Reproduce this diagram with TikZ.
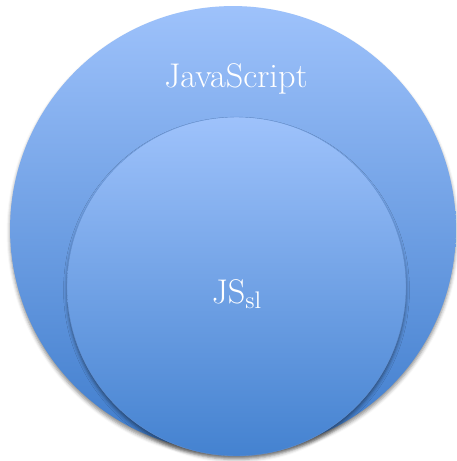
\documentclass[tikz,border=0pt]{standalone}
\usepackage{fontspec}
\usepackage{tikz}
\usetikzlibrary{shadows.blur}
\usetikzlibrary{positioning}
\definecolor{jstop}{RGB}{158,194,251}
\definecolor{jsbottom}{RGB}{62,124,204}
\definecolor{sltop}{RGB}{158,194,251}
\definecolor{slbottom}{RGB}{68,130,208}
\definecolor{jsedge}{RGB}{100,145,210}
\tikzset{
  myouter/.style={
    shape=circle,
    inner sep=0pt,
    minimum size=8.92cm,
    top color=jstop,
    bottom color=jsbottom,
    blur shadow={shadow xshift=0pt, shadow yshift=-2pt,
      shadow blur radius=2pt, shadow opacity=45},
  },
  myinner/.style={
    shape=circle,
    inner sep=0pt,
    minimum size=6.78cm,
    top color=sltop,
    bottom color=slbottom,
    draw=jsedge,
    line width=0.2pt,
    blur shadow={shadow xshift=0pt, shadow yshift=-2pt,
      shadow blur radius=2pt, shadow opacity=45},
  },
  mylabel/.style={
    text=white,
    inner sep=0pt,
    font=\fontsize{19.5}{23}\selectfont\addfontfeatures{LetterSpace=6}
  },
}

\begin{document}
\begin{tikzpicture}[x=0.02cm, y=-0.02cm]
    \useasboundingbox (0,0) rectangle (457,461);

    \node[myouter] (JS) at (233, 229) {};
    \node[myinner] (SL) at (236.5, 286.5) {};

    \node[mylabel, anchor=base] (JSlabel) at (236, 87) {JavaScript};
    \node[mylabel, anchor=base] (SLlabel) at (237, 303) {JS\textsubscript{sl}};
  \end{tikzpicture}
\end{document}
